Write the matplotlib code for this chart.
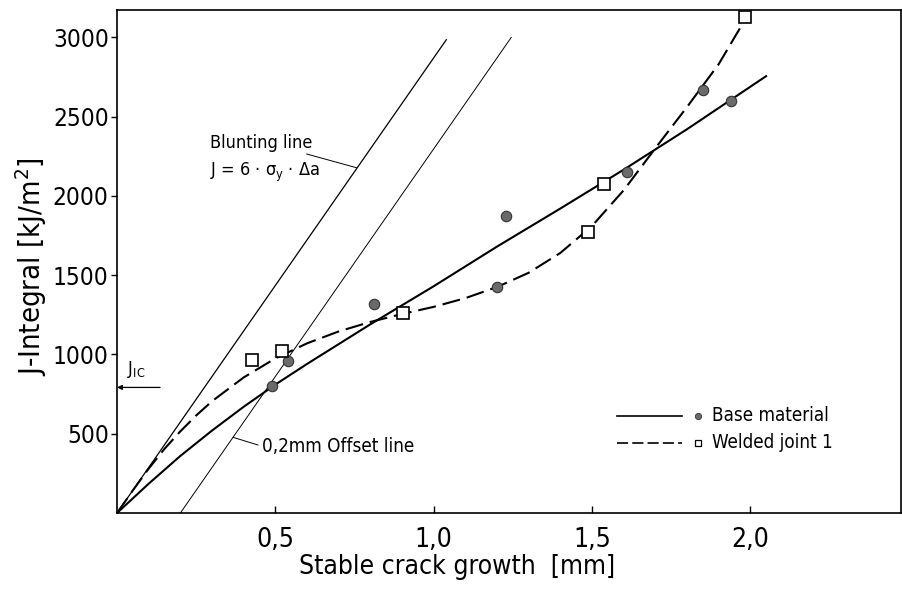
import matplotlib
matplotlib.use("Agg")
import matplotlib.pyplot as plt
import numpy as np

plt.rcParams['font.family'] = ['Liberation Sans Narrow', 'DejaVu Sans']
plt.rcParams['font.stretch'] = 'condensed'
plt.rcParams['mathtext.fontset'] = 'custom'
plt.rcParams['mathtext.rm'] = 'DejaVu Sans:stretch=condensed'
plt.rcParams['mathtext.it'] = 'DejaVu Sans:stretch=condensed'
plt.rcParams['lines.scale_dashes'] = False

# ---- data ----
base_x = [0.49, 0.54, 0.81, 1.20, 1.23, 1.61, 1.85, 1.94]
base_j = [800, 958, 1318, 1423, 1873, 2152, 2667, 2598]

weld_x = [0.425, 0.522, 0.904, 1.488, 1.539, 1.983]
weld_j = [965, 1021, 1259, 1770, 2074, 3130]

# fitted curves (traced)
base_fit_x = [0, 0.1, 0.2, 0.3, 0.4, 0.5, 0.6, 0.7, 0.8, 0.9, 1.0, 1.2, 1.4,
              1.6, 1.8, 2.05]
base_fit_j = [0, 185, 360, 520, 670, 810, 940, 1065, 1190, 1310, 1430, 1680, 1920,
              2165, 2420, 2755]

weld_fit_x = [0, 0.05, 0.1, 0.15, 0.2, 0.25, 0.3, 0.4, 0.5, 0.6, 0.7, 0.8, 0.9,
              1.0, 1.1, 1.2, 1.3, 1.4, 1.5, 1.6, 1.7, 1.8, 1.9, 1.983]
weld_fit_j = [0, 143, 280, 405, 515, 615, 705, 855, 975, 1070, 1145, 1205, 1255,
              1300, 1355, 1425, 1515, 1640, 1810, 2035, 2300, 2560, 2830, 3110]

blunt_slope = 2870          # J = 6*sigma_y*da
blunt_end = 1.04
offset_da = 0.2
offset_end = 1.245
j_ic = 792

xticks = [0.5, 1.0, 1.5, 2.0]
xtick_labels = ['0,5', '1,0', '1,5', '2,0']
yticks = [500, 1000, 1500, 2000, 2500, 3000]

fig = plt.figure(figsize=(9.03, 5.89), dpi=100)
ax = fig.add_axes([0.1296, 0.1290, 0.8682, 0.854])

# blunting & offset lines
bx = np.array([0, blunt_end])
ax.plot(bx, blunt_slope * bx, color='black', lw=0.9)
ox = np.array([offset_da, offset_end])
ax.plot(ox, blunt_slope * (ox - offset_da), color='black', lw=0.7)

# fitted curves
ax.plot(base_fit_x, base_fit_j, color='black', lw=1.5, solid_joinstyle='round')
ax.plot(weld_fit_x, weld_fit_j, color='black', lw=1.5, dashes=(13, 5))

# measured points
ax.plot(base_x, base_j, 'o', ms=7.5, mfc='#6a6a6a', mec='#333333', mew=0.8, zorder=5)
ax.plot(weld_x, weld_j, 's', ms=8, mfc='white', mec='black', mew=1.2, zorder=5,
        clip_on=False)

# J_IC arrow
ax.annotate('', xy=(0, j_ic), xytext=(0.136, j_ic),
            arrowprops=dict(arrowstyle='-|>', lw=0.9, color='black',
                            mutation_scale=7, shrinkA=0, shrinkB=0))
ax.text(0.03, 840, r'J$_{\mathrm{IC}}$', fontsize=13, ha='left', va='bottom')

# labels with leaders
ax.text(0.294, 2333, 'Blunting line', fontsize=13, ha='left', va='center')
ax.text(0.294, 2150, r'J = 6 · σ$_\mathrm{y}$ · Δa', fontsize=13, ha='left', va='center')
ax.plot([0.599, 0.757], [2264, 2177], color='black', lw=0.7)

ax.text(0.457, 418, '0,2mm Offset line', fontsize=13.5, ha='left', va='center')
ax.plot([0.367, 0.445], [477, 429], color='black', lw=0.7)

# legend (hand drawn like the original)
ax.plot([1.578, 1.783], [612, 612], color='black', lw=1.2)
ax.plot([1.578, 1.783], [443, 443], color='black', lw=1.2, dashes=(8, 3))
ax.plot([1.835], [612], 'o', ms=4.5, mfc='#6a6a6a', mec='#333333', mew=0.6)
ax.plot([1.835], [443], 's', ms=5, mfc='white', mec='black', mew=0.9)
ax.text(1.879, 612, 'Base material', fontsize=13.5, ha='left', va='center')
ax.text(1.879, 443, 'Welded joint 1', fontsize=13.5, ha='left', va='center')

ax.set_xlim(0, 2.476)
ax.set_ylim(0, 3172)
ax.set_xticks(xticks, xtick_labels)
ax.set_yticks(yticks)
ax.tick_params(axis='x', direction='in', length=5, width=1.0, labelsize=19, pad=10)
ax.tick_params(axis='y', direction='out', length=4, width=1.0, labelsize=17.5, pad=2)
for s in ax.spines.values():
    s.set_linewidth(1.2)

ax.set_xlabel('Stable crack growth  [mm]', fontsize=19)
ax.xaxis.set_label_coords(0.434, -0.082)
ax.set_ylabel(r'J-Integral [kJ/m$^{2}$]', fontsize=21)
ax.yaxis.set_label_coords(-0.087, 0.49)

fig.savefig('out.png', dpi=100)
